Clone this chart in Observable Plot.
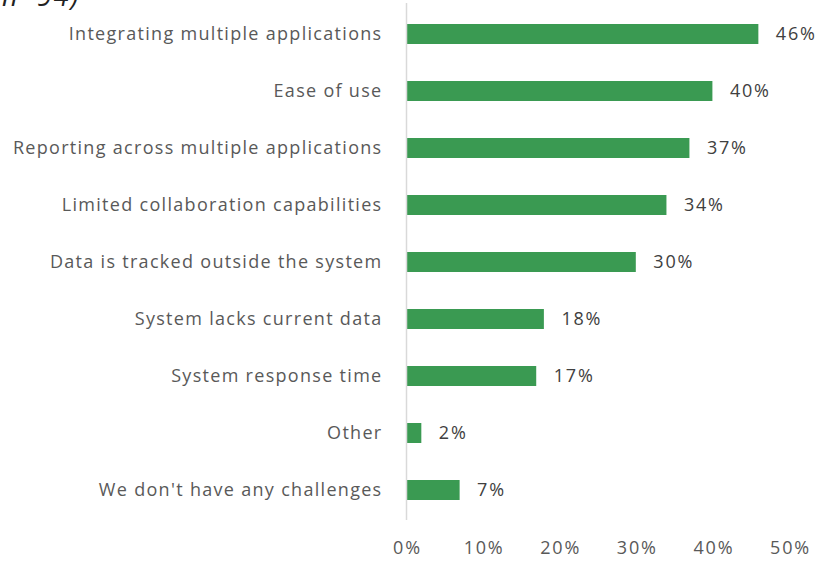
<!DOCTYPE html>
<html>
<head>
<meta charset="utf-8">
<script src="https://cdn.jsdelivr.net/npm/d3@7"></script>
<script src="https://cdn.jsdelivr.net/npm/@observablehq/plot@0.6"></script>
<style>
  html, body { margin: 0; padding: 0; background: #fff; overflow: hidden; }
  #wrap { position: relative; width: 819px; height: 563px; }
  #cut { position: absolute; left: 2px; top: -23px; font: italic 27px "Open Sans", sans-serif; color: #222; letter-spacing: 2px; white-space: nowrap; }
  #wrap svg text { letter-spacing: 1.3px; }
  #wrap svg .vals text, #wrap svg .xax text { letter-spacing: 1.8px; }
</style>
</head>
<body>
<div id="wrap"><div id="cut">n=94)</div></div>
<script>
const categories = [
  "Integrating multiple applications",
  "Ease of use",
  "Reporting across multiple applications",
  "Limited collaboration capabilities",
  "Data is tracked outside the system",
  "System lacks current data",
  "System response time",
  "Other",
  "We don't have any challenges"
];
const values = [46, 40, 37, 34, 30, 18, 17, 2, 7];
const xTicks = [0, 10, 20, 30, 40, 50];

const data = categories.map((c, i) => ({category: c, value: values[i]}));

const chart = Plot.plot({
  width: 819,
  height: 563,
  marginLeft: 406,
  marginRight: 30,
  marginTop: 3,
  marginBottom: 43,
  style: {fontFamily: "'Open Sans', sans-serif", fontSize: "18px", color: "#595959", background: "transparent"},
  x: {domain: [0, 50], ticks: xTicks, tickFormat: d => d + "%", label: null},
  y: {domain: categories, paddingInner: 0.65, paddingOuter: 0.321, label: null},
  axis: null,
  marks: [
    Plot.barX(data, {y: "category", x: "value", fill: "#3a9a52"}),
    Plot.ruleX([0], {stroke: "#d9d9d9", strokeWidth: 1.5}),
    Plot.text(data, {y: "category", x: "value", text: d => d.value + "%", textAnchor: "start", dx: 17, fill: "#404040", fontSize: 18, className: "vals"}),
    Plot.axisX({ticks: xTicks, tickFormat: d => d + "%", tickSize: 0, tickPadding: 21, dx: 1, fill: "#595959", fontSize: 18, label: null, className: "xax"}),
    Plot.axisY({tickSize: 0, tickPadding: 24, fill: "#595959", fontSize: 18, label: null})
  ]
});
document.getElementById("wrap").appendChild(chart);
</script>
</body>
</html>
